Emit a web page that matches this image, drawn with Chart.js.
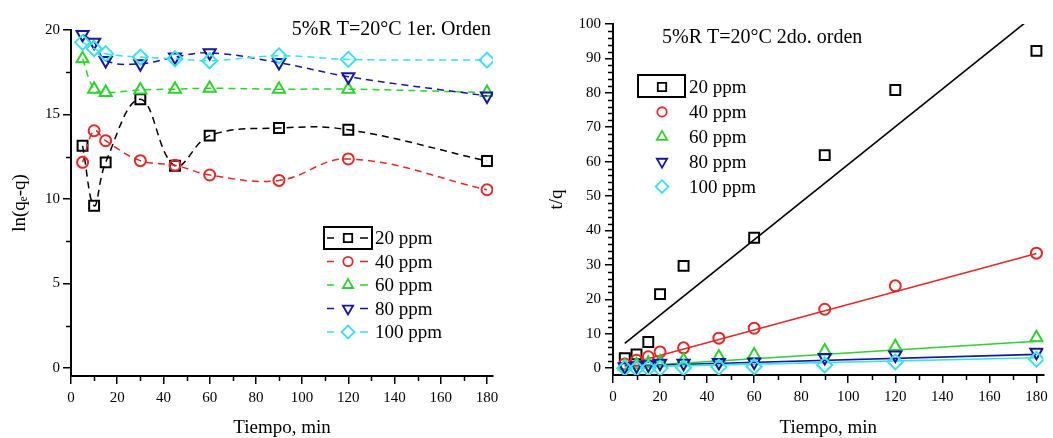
<!DOCTYPE html>
<html>
<head>
<meta charset="utf-8">
<script src="https://cdn.jsdelivr.net/npm/chart.js@4/dist/chart.umd.min.js"></script>
<style>
  html, body { margin: 0; padding: 0; background: #fff; overflow: hidden; }
  #izq { position: absolute; left: 0; top: 0; }
  #der { position: absolute; left: 540px; top: 0; }
</style>
</head>
<body>
<canvas id="izq" width="530" height="438"></canvas>
<canvas id="der" width="513" height="438"></canvas>
<script>
//------------------------------ DATOS ----------------------------------
const series = ['20 ppm', '40 ppm', '60 ppm', '80 ppm', '100 ppm'];

// 1er orden: ln(qe-q) vs tiempo
const tiempos1 = [5, 10, 15, 30, 45, 60, 90, 120, 180];
const ln20  = [13.15, 9.6, 12.17, 15.9, 11.97, 13.75, 14.2, 14.1, 12.25];
const ln40  = [12.17, 14.04, 13.45, 12.27, 12.0, 11.42, 11.1, 12.37, 10.55];
const ln60  = [18.3, 16.5, 16.3, 16.45, 16.5, 16.55, 16.5, 16.5, 16.3];
const ln80  = [19.74, 19.27, 18.2, 18.0, 18.4, 18.65, 18.07, 17.24, 16.1];
const ln100 = [19.27, 18.9, 18.6, 18.4, 18.3, 18.18, 18.47, 18.26, 18.22];

// 2do orden: t/q vs tiempo (null = sin punto)
const tiempos2 = [5, 10, 15, 20, 30, 45, 60, 90, 120, 180];
const tq20  = [2.9, 4.0, 7.6, 21.5, 29.7, null, 37.9, 61.9, 80.8, 92.2];
const tq40  = [1.2, 2.3, 3.3, 4.7, 5.9, 8.7, 11.6, 17.1, 23.9, 33.4];
const tq60  = [0.6, 1.0, 1.4, 1.8, 2.3, 3.2, 3.8, 5.0, 6.2, 8.8];
const tq80  = [0.4, 0.7, 1.0, 1.4, 1.4, 1.6, 1.8, 3.1, 3.8, 4.6];
const tq100 = [0.0, -0.1, 0.0, 0.0, 0.1, 0.3, 0.4, 0.9, 1.8, 2.6];

// rectas de ajuste (extremos en t=5 y t=180)
const tiemposAjuste = [5, 180];
const ajuste20  = [7.2, 103.0];
const ajuste40  = [0.9, 33.3];
const ajuste60  = [0.4, 7.8];
const ajuste80  = [0.6, 4.0];
const ajuste100 = [0.3, 3.0];

// ticks
const ticksX = [0, 20, 40, 60, 80, 100, 120, 140, 160, 180];
const menoresX = [10, 30, 50, 70, 90, 110, 130, 150, 170];
const ticksY1 = [0, 5, 10, 15, 20];
const menoresY1 = [2.5, 7.5, 12.5, 17.5];
const ticksY2 = [0, 10, 20, 30, 40, 50, 60, 70, 80, 90, 100];
const menoresY2 = [];
for (let v = 2; v < 100; v += 2) if (v % 10 !== 0) menoresY2.push(v);

//------------------------------ ESTILOS ----------------------------------
const FUENTE = '"Liberation Serif", "Times New Roman", serif';
const colores = ['#000000', '#e02a2a', '#2fd12f', '#16169e', '#3cdfee'];
const simbolos = [
  { pointStyle: 'rect', radius: 7, rotation: 0 },
  { pointStyle: 'circle', radius: 5.5, rotation: 0 },
  { pointStyle: 'triangle', radius: 7, rotation: 0 },
  { pointStyle: 'triangle', radius: 7, rotation: 180 },
  { pointStyle: 'rectRot', radius: 7.5, rotation: 0 }
];

function pares(xs, ys) {
  const out = [];
  xs.forEach((x, i) => { if (ys[i] !== null) out.push({ x: x, y: ys[i] }); });
  return out;
}

function ejes(cfg) {
  return {
    x: {
      type: 'linear', min: 0, max: cfg.maxX,
      afterBuildTicks: s => { s.ticks = ticksX.map(v => ({ value: v })); },
      afterFit: s => { s.height = cfg.altoX; },
      ticks: { color: '#000', font: { family: FUENTE, size: 15 }, padding: 5, maxRotation: 0 },
      grid: { drawOnChartArea: false, drawTicks: true, tickLength: 8, color: '#000', lineWidth: 1.5 },
      border: { display: true, color: '#000', width: 2 },
      title: { display: true, text: 'Tiempo, min', color: '#000',
               font: { family: FUENTE, size: 19, lineHeight: 1 }, padding: { top: 0, bottom: 0 } }
    },
    y: {
      type: 'linear', min: cfg.minY, max: cfg.maxY,
      afterBuildTicks: s => { s.ticks = cfg.ticksY.map(v => ({ value: v })); },
      afterFit: s => { s.width = cfg.anchoY; },
      ticks: { color: '#000', font: { family: FUENTE, size: 15 }, padding: cfg.padY },
      grid: { drawOnChartArea: false, drawTicks: true, tickLength: 8, color: '#000', lineWidth: 1.5 },
      border: { display: true, color: '#000', width: 2 },
      title: { display: true, text: cfg.tituloY, color: '#000',
               font: { family: FUENTE, size: 19, lineHeight: 1 }, padding: { top: cfg.padTituloY, bottom: 0 } }
    }
  };
}

// marcas menores, titulo interno y leyenda
function decoracion(cfg) {
  return {
    id: 'decoracion',
    afterDraw(chart) {
      const ctx = chart.ctx;
      const area = chart.chartArea;
      const sx = chart.scales.x, sy = chart.scales.y;
      ctx.save();
      ctx.strokeStyle = '#000';
      ctx.lineWidth = 1.5;
      ctx.beginPath();
      cfg.menoresX.forEach(v => {
        const px = Math.round(sx.getPixelForValue(v)) + 0.5;
        ctx.moveTo(px, area.bottom);
        ctx.lineTo(px, area.bottom + 5);
      });
      cfg.menoresY.forEach(v => {
        const py = Math.round(sy.getPixelForValue(v)) + 0.5;
        ctx.moveTo(area.left, py);
        ctx.lineTo(area.left - 5, py);
      });
      ctx.stroke();

      // titulo
      ctx.fillStyle = '#000';
      ctx.font = '20px ' + FUENTE;
      ctx.textBaseline = 'alphabetic';
      ctx.textAlign = cfg.titulo.align;
      ctx.fillText(cfg.titulo.texto, cfg.titulo.x, cfg.titulo.y);

      // leyenda
      const L = cfg.leyenda;
      ctx.lineWidth = 2;
      ctx.strokeRect(L.caja[0], L.caja[1], L.caja[2], L.caja[3]);
      ctx.font = '19px ' + FUENTE;
      ctx.textAlign = 'left';
      series.forEach((nombre, i) => {
        const yb = L.y0 + i * L.paso;
        const yc = yb - 6;
        ctx.strokeStyle = colores[i];
        if (L.guiones) {
          ctx.lineWidth = 1.5;
          ctx.beginPath();
          ctx.moveTo(L.xSimbolo - 21, yc); ctx.lineTo(L.xSimbolo - 14, yc);
          ctx.moveTo(L.xSimbolo + 12, yc); ctx.lineTo(L.xSimbolo + 20, yc);
          ctx.stroke();
        }
        ctx.lineWidth = 1.8;
        ctx.fillStyle = 'rgba(0,0,0,0)';
        const s = simbolos[i];
        Chart.helpers.drawPoint(ctx, { pointStyle: s.pointStyle, rotation: s.rotation,
          radius: s.radius * 0.85, borderWidth: 1.8 }, L.xSimbolo, yc);
        ctx.fillStyle = '#000';
        ctx.fillText(nombre, L.xTexto, yb);
      });
      ctx.restore();
    }
  };
}

//------------------------------ 1ER ORDEN ----------------------------------
const datos1 = [ln20, ln40, ln60, ln80, ln100];
new Chart(document.getElementById('izq'), {
  type: 'line',
  data: {
    datasets: datos1.map((ys, i) => ({
      label: series[i],
      data: pares(tiempos1, ys),
      borderColor: colores[i],
      borderWidth: 1.5,
      borderDash: [7, 5],
      tension: 0.4,
      fill: false,
      pointStyle: simbolos[i].pointStyle,
      pointRotation: simbolos[i].rotation,
      pointRadius: simbolos[i].radius,
      pointBorderWidth: 2,
      pointBorderColor: colores[i],
      pointBackgroundColor: 'rgba(0,0,0,0)',
      order: 5 - i
    }))
  },
  options: {
    responsive: false, animation: false,
    layout: { padding: { top: 30, right: 37, left: 0, bottom: 0 } },
    scales: ejes({ maxX: 182.6, altoX: 62, minY: -0.47, maxY: 20, ticksY: ticksY1,
                   anchoY: 71, padY: 3, tituloY: 'ln(q\u2091-q)', padTituloY: 11 }),
    plugins: { legend: { display: false }, tooltip: { enabled: false } }
  },
  plugins: [decoracion({
    menoresX: menoresX, menoresY: menoresY1,
    titulo: { texto: '5%R T=20°C 1er. Orden', x: 491, y: 35, align: 'right' },
    leyenda: { caja: [324, 227, 48, 22], y0: 244, paso: 23.5, xSimbolo: 348, xTexto: 375, guiones: true }
  })]
});

//------------------------------ 2DO ORDEN ----------------------------------
const datos2 = [tq20, tq40, tq60, tq80, tq100];
const ajustes = [ajuste20, ajuste40, ajuste60, ajuste80, ajuste100];
const puntos2 = datos2.map((ys, i) => ({
  label: series[i],
  data: pares(tiempos2, ys),
  showLine: false,
  borderColor: colores[i],
  pointStyle: simbolos[i].pointStyle,
  pointRotation: simbolos[i].rotation,
  pointRadius: simbolos[i].radius,
  pointBorderWidth: 2,
  pointBorderColor: colores[i],
  pointBackgroundColor: 'rgba(0,0,0,0)',
  order: 5 - i
}));
const rectas2 = ajustes.map((ys, i) => ({
  label: 'ajuste ' + series[i],
  data: pares(tiemposAjuste, ys),
  showLine: true,
  borderColor: colores[i],
  borderWidth: 1.6,
  pointRadius: 0,
  fill: false,
  order: 10 + (5 - i)
}));
new Chart(document.getElementById('der'), {
  type: 'line',
  data: { datasets: puntos2.concat(rectas2) },
  options: {
    responsive: false, animation: false,
    layout: { padding: { top: 24, right: 9, left: 0, bottom: 0 } },
    scales: ejes({ maxX: 183, altoX: 63, minY: -2, maxY: 100, ticksY: ticksY2,
                   anchoY: 73, padY: 4, tituloY: 't/q', padTituloY: 8 }),
    plugins: { legend: { display: false }, tooltip: { enabled: false } }
  },
  plugins: [decoracion({
    menoresX: menoresX, menoresY: menoresY2,
    titulo: { texto: '5%R T=20°C 2do. orden', x: 122, y: 43, align: 'left' },
    leyenda: { caja: [98, 75, 47, 22], y0: 93, paso: 24.9, xSimbolo: 122, xTexto: 149, guiones: false }
  })]
});
</script>
</body>
</html>
